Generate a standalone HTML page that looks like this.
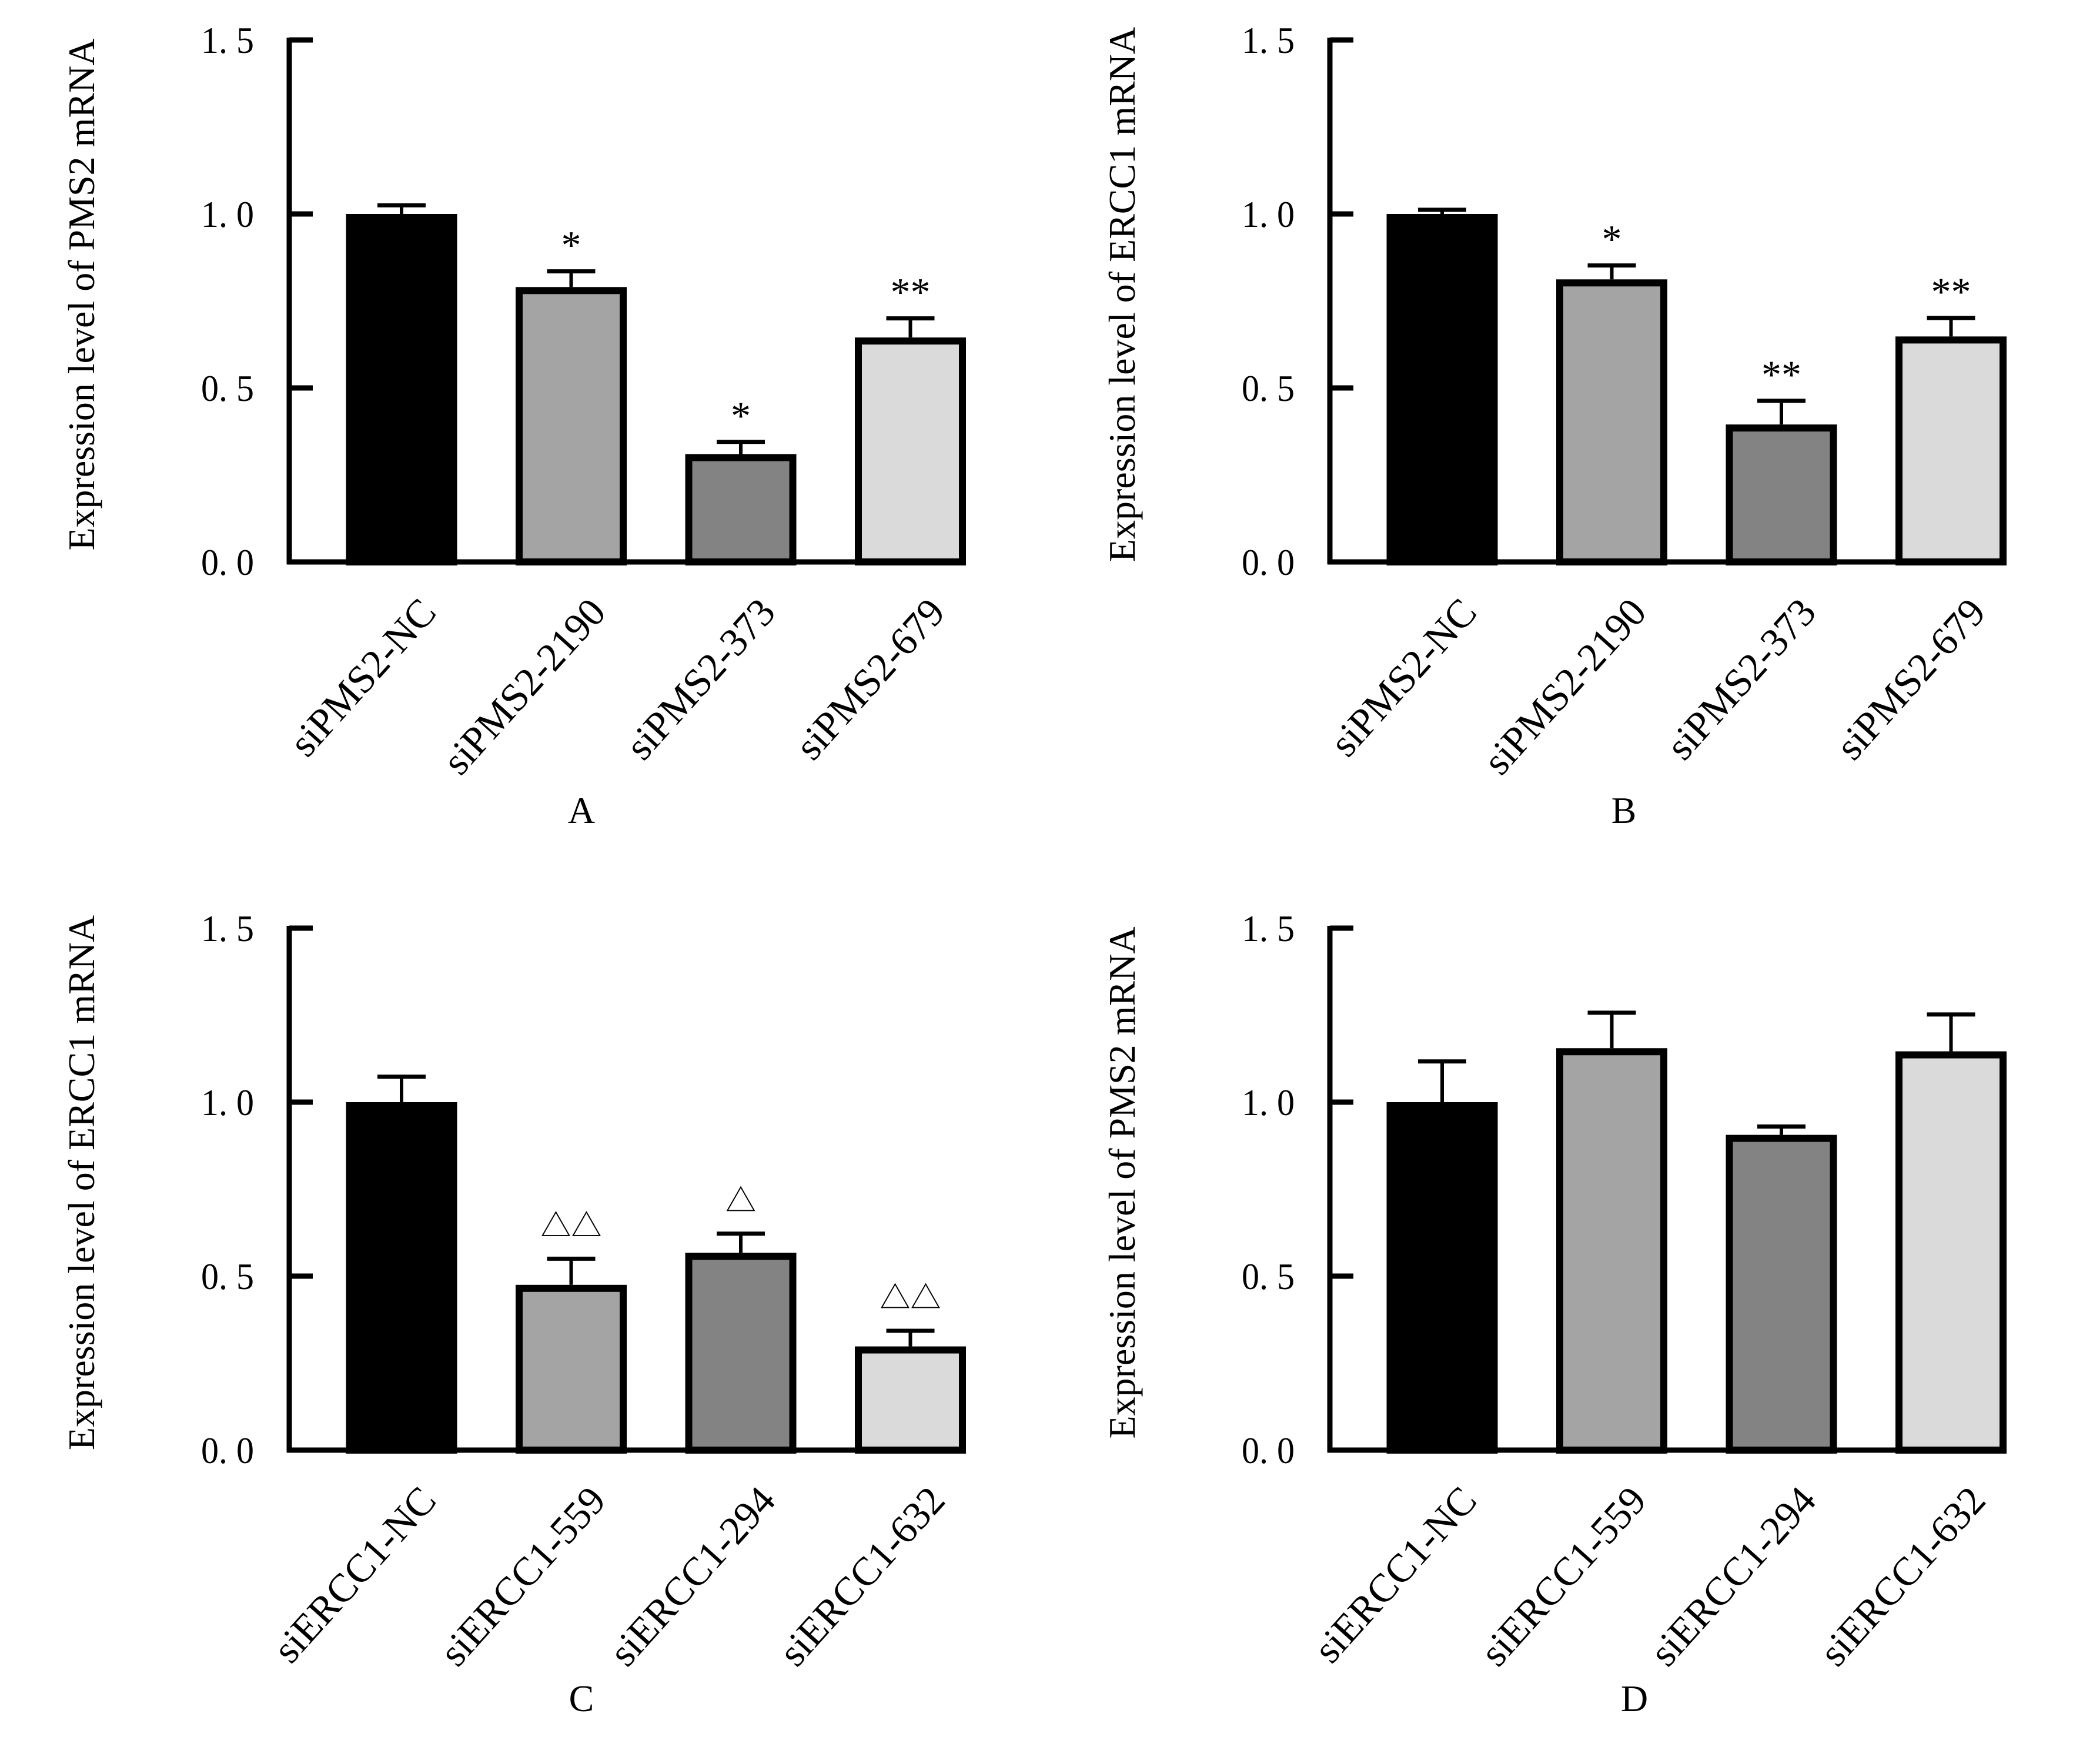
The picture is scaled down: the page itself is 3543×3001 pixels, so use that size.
<!DOCTYPE html>
<html><head><meta charset="utf-8"><style>
html,body{margin:0;padding:0;background:#fff;}
svg{display:block;}
text{font-family:"Liberation Serif","Times New Roman","Noto Serif CJK SC",serif;fill:#000;}
</style></head>
<body>
<svg id="fig" width="3543" height="3001" viewBox="0 0 3543 3001" xmlns="http://www.w3.org/2000/svg"></svg>
<script>
// Panel A data
const catsA = ["siPMS2-NC","siPMS2-2190","siPMS2-373","siPMS2-679"];
const valsA = [1.0, 0.79, 0.31, 0.645];
const errsA = [0.025, 0.045, 0.035, 0.055];
const marksA = ["", "*", "*", "**"];
// Panel B data
const catsB = ["siPMS2-NC","siPMS2-2190","siPMS2-373","siPMS2-679"];
const valsB = [1.0, 0.812, 0.395, 0.648];
const errsB = [0.012, 0.04, 0.068, 0.053];
const marksB = ["", "*", "**", "**"];
// Panel C data
const catsC = ["siERCC1-NC","siERCC1-559","siERCC1-294","siERCC1-632"];
const valsC = [1.0, 0.475, 0.567, 0.298];
const errsC = [0.073, 0.075, 0.055, 0.045];
const marksC = ["", "△△", "△", "△△"];
// Panel D data
const catsD = ["siERCC1-NC","siERCC1-559","siERCC1-294","siERCC1-632"];
const valsD = [1.0, 1.155, 0.906, 1.146];
const errsD = [0.117, 0.102, 0.024, 0.106];
const marksD = ["", "", "", ""];
// Axis ticks
const tickVals = [0, 0.5, 1.0, 1.5];
const tickLabels = ["0. 0","0. 5","1. 0","1. 5"];
const titles = ["Expression level of PMS2 mRNA","Expression level of ERCC1  mRNA","Expression level of ERCC1 mRNA","Expression level of PMS2 mRNA"];
const letters = ["A","B","C","D"];
const fills = ["#000000","#a4a4a4","#838383","#dadada"];
const letterX = [989, 2762, 989, 2780];

const NS = "http://www.w3.org/2000/svg";
const svg = document.getElementById("fig");
function mk(tag, attrs, parent){
  const e = document.createElementNS(NS, tag);
  for (const k in attrs) e.setAttribute(k, attrs[k]);
  (parent||svg).appendChild(e);
  return e;
}
const panels = [
  {ox:0, base:956, cats:catsA, vals:valsA, errs:errsA, marks:marksA},
  {ox:1770, base:956, cats:catsB, vals:valsB, errs:errsB, marks:marksB},
  {ox:0, base:2467, cats:catsC, vals:valsC, errs:errsC, marks:marksC},
  {ox:1770, base:2467, cats:catsD, vals:valsD, errs:errsD, marks:marksD}
];
const PER = 592;
panels.forEach((p, pi) => {
  const g = mk("g", {});
  
  
  const ax = 492 + p.ox, axEnd = 1642 + p.ox;
  const y = v => p.base - v * PER;
  const xc = i => ax + 191 + i * 288.5;
  p.vals.forEach((v, i) => {
    const top = y(v), bw = 189, sw = 12;
    const ey = y(v + p.errs[i]);
    const el = mk("line", {x1:xc(i), x2:xc(i), y1:top, y2:ey, stroke:"#000", "stroke-width":6}, g);
    
    
    const cap = mk("line", {x1:xc(i)-41, x2:xc(i)+41, y1:ey, y2:ey, stroke:"#000", "stroke-width":7}, g);
    
    
    const r = mk("rect", {x:xc(i)-bw/2+sw/2, y:top+sw/2, width:bw-sw, height:p.base-top-sw/2, fill:fills[i], stroke:"#000", "stroke-width":sw}, g);
    
    
    if (p.marks[i]) {
      const isTri = p.marks[i].indexOf("△") >= 0;
      const t = mk("text", {x:xc(i), y:ey - (isTri ? 38 : 22), "text-anchor":"middle", "font-size": isTri ? 52 : 68}, g);
      if (isTri) t.setAttribute("style", 'font-family:"Noto Sans CJK SC",sans-serif');
      t.textContent = p.marks[i];
      
      
    }
    const lx = xc(i) + 62, ly = p.base + 88;
    const c = mk("text", {x:lx, y:ly, "text-anchor":"end", "font-size":68, transform:`rotate(-48 ${lx} ${ly})`}, g);
    c.textContent = p.cats[i];
    
    
  });
  const ya = mk("line", {x1:ax, x2:ax, y1:y(1.5)-4, y2:p.base+4, stroke:"#000", "stroke-width":9}, g);
  
  
  const xa = mk("line", {x1:ax-4, x2:axEnd, y1:p.base, y2:p.base, stroke:"#000", "stroke-width":9}, g);
  
  
  tickVals.forEach((tv, k) => {
    const tk = mk("line", {x1:ax, x2:ax+40, y1:y(tv), y2:y(tv), stroke:"#000", "stroke-width":9}, g);
    
    
    const tl = mk("text", {x:ax-60, y:y(tv)+22, "text-anchor":"end", "font-size":64, textLength:90, lengthAdjust:"spacingAndGlyphs"}, g);
    tl.textContent = tickLabels[k];
    
    
  });
  const tx = 160 + p.ox, ty = p.base - 455;
  const tt = mk("text", {x:tx, y:ty, "text-anchor":"middle", "font-size":64, transform:`rotate(-90 ${tx} ${ty})`}, g);
  tt.textContent = titles[pi];
  
  
  const pl = mk("text", {x:letterX[pi], y:p.base + 444, "text-anchor":"middle", "font-size":64}, g);
  pl.textContent = letters[pi];
  
  
});
</script>
</body></html>
